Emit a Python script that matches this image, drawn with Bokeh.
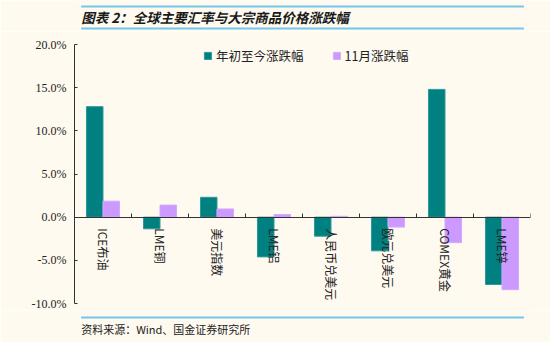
import math
from bokeh.plotting import figure
from bokeh.models import ColumnDataSource, Range1d, FixedTicker, LinearAxis, Legend, LegendItem
from bokeh.layouts import column
from bokeh.core.properties import value
from bokeh.transform import dodge
from bokeh.embed import file_html
from bokeh.resources import INLINE

# ---------------- data ----------------
title_text = "图表 2：全球主要汇率与大宗商品价格涨跌幅"
source_text = "资料来源：Wind、国金证券研究所"
categories = ["ICE布油", "LME铜", "美元指数", "LME铝", "人民币兑美元", "欧元兑美元", "COMEX黄金", "LME锌"]
series_names = ["年初至今涨跌幅", "11月涨跌幅"]
ytd_change = [12.8, -1.35, 2.3, -4.6, -2.2, -3.9, 14.8, -7.8]
nov_change = [1.85, 1.4, 0.95, 0.3, 0.1, -1.15, -2.95, -8.4]
y_ticks = [-10, -5, 0, 5, 10, 15, 20]
y_tick_labels = ["-10.0%", "-5.0%", "0.0%", "5.0%", "10.0%", "15.0%", "20.0%"]

# ---------------- styles ----------------
BG = "#FEFAF0"
RULE = "#74C6E8"
TEAL = "#008080"
PURPLE = "#CC99FF"
INK = "#222222"
AXIS = "#333333"
CJK = "Noto Sans CJK SC"
SERIF = "Liberation Serif"


def bare_fig(h):
    f = figure(width=550, height=h, x_range=Range1d(0, 550), y_range=Range1d(h, 0),
               output_backend="svg", toolbar_location=None,
               x_axis_location=None, y_axis_location=None, min_border=0,
               background_fill_color=BG, border_fill_color=BG, outline_line_color=None)
    f.grid.visible = False
    return f


# ---------------- header ----------------
head = bare_fig(31)
head.segment(x0=[8, 8], y0=[6, 28], x1=[542, 542], y1=[6, 28], line_color=RULE, line_width=2)
head.text(x=[8], y=[16], text=[title_text], text_font=value(CJK), text_font_style="bold italic",
          text_font_size="13.5px", text_baseline="middle", text_align="left", text_color="#1a1a1a")

# ---------------- main chart ----------------
n = len(categories)
src = ColumnDataSource(dict(x=list(range(n)), ytd=ytd_change, nov=nov_change, cat=categories))

p = figure(width=550, height=279, x_range=Range1d(-0.5, n - 0.5), y_range=Range1d(y_ticks[0], y_ticks[-1]),
           output_backend="svg", toolbar_location=None,
           x_axis_location=None, y_axis_location="left",
           min_border_left=74, min_border_right=20, min_border_top=13, min_border_bottom=7,
           background_fill_color=BG, border_fill_color=BG, outline_line_color=None)
p.grid.visible = False

yax = p.yaxis[0]
yax.ticker = FixedTicker(ticks=y_ticks)
yax.major_label_overrides = {t: l for t, l in zip(y_ticks, y_tick_labels)}
yax.major_tick_in = 3
yax.major_tick_out = 0
yax.minor_tick_line_color = None
yax.axis_line_color = AXIS
yax.major_tick_line_color = AXIS
yax.major_label_text_font = SERIF
yax.major_label_text_font_size = "12px"
yax.major_label_text_color = INK
yax.major_label_standoff = 8

bw = 0.29
r1 = p.vbar(x=dodge("x", -bw / 2, range=p.x_range), top="ytd", bottom=0, width=bw, source=src,
            fill_color=TEAL, line_color="#2E9A9A", line_width=1)
r2 = p.vbar(x=dodge("x", bw / 2, range=p.x_range), top="nov", bottom=0, width=bw, source=src,
            fill_color=PURPLE, line_color="#D4A8FF", line_width=1)

xax = LinearAxis(fixed_location=0,
                 ticker=FixedTicker(ticks=[], minor_ticks=[i + 0.5 for i in range(n)]),
                 axis_line_color=AXIS, minor_tick_line_color=AXIS,
                 minor_tick_in=4, minor_tick_out=0, major_tick_in=0, major_tick_out=0)
p.add_layout(xax, "below")

p.text(x="x", y=0, text="cat", source=src, angle=-math.pi / 2, y_offset=11,
       text_align="left", text_baseline="middle", text_font=value(CJK),
       text_font_size="12px", text_color=INK)

legend = Legend(items=[LegendItem(label=series_names[0], renderers=[r1]),
                       LegendItem(label=series_names[1], renderers=[r2])],
                orientation="horizontal", location=(129, 238),
                glyph_width=9, glyph_height=9, label_standoff=4, spacing=28,
                padding=0, margin=0, border_line_color=None, background_fill_alpha=0,
                label_text_font=CJK, label_text_font_size="12.5px", label_text_color=INK)
p.add_layout(legend)

# ---------------- footer ----------------
foot = bare_fig(32)
foot.segment(x0=[8], y0=[7], x1=[542], y1=[7], line_color=RULE, line_width=2)
foot.text(x=[8], y=[18], text=[source_text], text_font=value(CJK), text_font_size="11px",
          text_baseline="middle", text_align="left", text_color=INK)

layout = column(head, p, foot, spacing=0)
open("out.html", "w").write(file_html(layout, INLINE))
